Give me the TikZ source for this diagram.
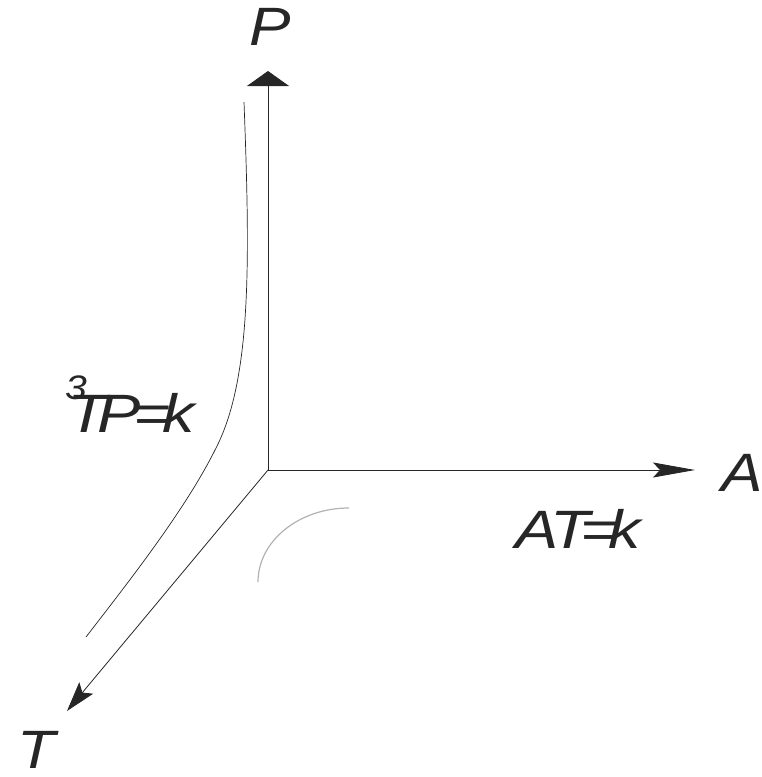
\documentclass[tikz,border=0pt]{standalone}
\usepackage{fontspec}
\setmainfont{Liberation Sans}
\usetikzlibrary{arrows.meta}
\begin{document}
\begin{tikzpicture}[x=1pt,y=-1pt,
  axis/.style={line width=0.8pt,draw=black!85},
  lbl/.style={font=\fontsize{54}{54}\selectfont\itshape,text=black!85,inner sep=0pt},
  curve/.style={line width=0.7pt,draw=black!85}]
\useasboundingbox (0,0) rectangle (761,777);
\coordinate (O) at (268,470);
\coordinate (Pt) at (268,71);
\coordinate (At) at (695,470);
\coordinate (Tt) at (67,711);
\draw[axis,-{Triangle[length=15pt,width=42pt]}] (O) -- (Pt);
\draw[axis,-{Stealth[length=42pt,width=15pt,inset=7pt]}] (O) -- (At);
\draw[axis,-{Stealth[length=30pt,width=18pt,inset=6pt]}] (O) -- (Tt);
\node[lbl] (P) at (270,27) {\scalebox{1.15}[1]{P}};
\node[lbl,anchor=west] (A) at (721,473) {\scalebox{1.15}[1]{A}};
\node[lbl] (T) at (36,750) {\scalebox{1.15}[1]{T}};
\node[lbl] (atk) at (578,529) {\scalebox{1.2}[1]{A\kern-7pt T\kern-8pt=\kern-8pt k}};
\node[lbl] (tpk) at (131,413) {\scalebox{1.2}[1]{T\kern-8pt P\kern-6pt=\kern-7pt k}};
\node[font=\fontsize{34}{34}\selectfont\itshape,text=black!85,inner sep=0pt] (three) at (76,388) {\scalebox{1.15}[1]{3}};
\draw[curve] (244,102) .. controls (250,260) and (252,380) .. (215,450) .. controls (185,510) and (130,580) .. (86,637);
\draw[line width=1.2pt,draw=black!30] (349,508) arc[start angle=270,end angle=180,x radius=91,y radius=74];
\end{tikzpicture}
\end{document}
